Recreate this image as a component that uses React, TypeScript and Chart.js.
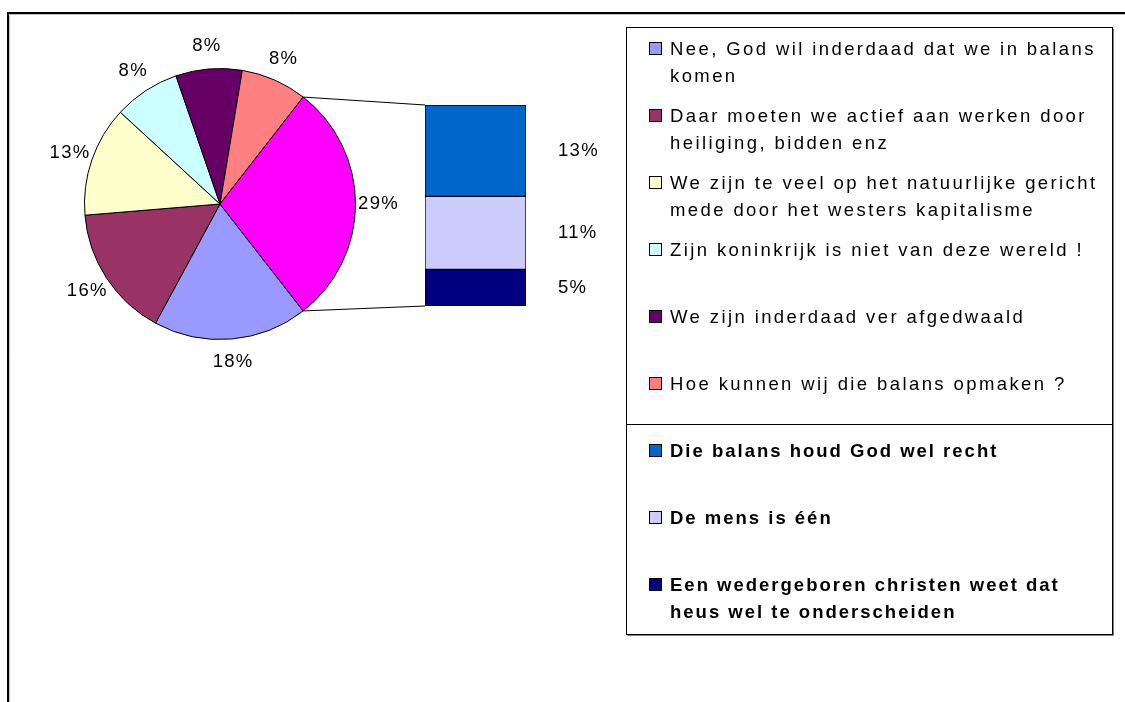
import React, { useEffect, useRef } from "react";
import { Chart, registerables } from "chart.js";

Chart.register(...registerables);

// ---- data ----
const pieLabels = [
  "Nee, God wil inderdaad dat we in balans komen",
  "Daar moeten we actief aan werken door heiliging, bidden enz",
  "We zijn te veel op het natuurlijke gericht mede door het westers kapitalisme",
  "Zijn koninkrijk is niet van deze wereld !",
  "We zijn inderdaad ver afgedwaald",
  "Hoe kunnen wij die balans opmaken ?",
];
const pieValues = [7, 6, 5, 3, 3, 3];
const pieColors = ["#9999FF", "#993366", "#FFFFCC", "#CCFFFF", "#660066", "#FF8080"];
const otherLabel = "Overig";
const otherColor = "#FF00FF";

const barLabels = [
  "Die balans houd God wel recht",
  "De mens is één",
  "Een wedergeboren christen weet dat heus wel te onderscheiden",
];
const barValues = [5, 4, 2];
const barColors = ["#0066CC", "#CCCCFF", "#000080"];

// ---- helpers ----
const W = 1125;
const H = 702;
const FONT_FAMILY = "'Liberation Sans', Arial, Helvetica, sans-serif";
const FONT_SIZE = 18.5;
const hasLS = (ctx: any) => "letterSpacing" in ctx;

function setSpacing(ctx: any, sp: number) {
  if (hasLS(ctx)) ctx.letterSpacing = sp + "px";
}
function textWidth(ctx: any, text: string, sp: number) {
  if (hasLS(ctx)) return ctx.measureText(text).width;
  return ctx.measureText(text).width + sp * text.length;
}
function drawText(ctx: any, text: string, x: number, y: number, sp: number) {
  if (hasLS(ctx)) {
    ctx.fillText(text, x, y);
    return;
  }
  let cx = x;
  for (const ch of text) {
    ctx.fillText(ch, cx, y);
    cx += ctx.measureText(ch).width + sp;
  }
}
function wrap(ctx: any, text: string, maxW: number, sp: number) {
  const words = text.split(" ");
  const lines: string[] = [];
  let cur = "";
  for (const w of words) {
    const test = cur ? cur + " " + w : w;
    if (cur && textWidth(ctx, test, sp) > maxW) {
      lines.push(cur);
      cur = w;
    } else cur = test;
  }
  if (cur) lines.push(cur);
  return lines;
}

export default function App() {
  const pieRef = useRef<HTMLCanvasElement>(null);
  const barRef = useRef<HTMLCanvasElement>(null);

  useEffect(() => {
    const otherValue = barValues.reduce((a, b) => a + b, 0);
    const total = pieValues.reduce((a, b) => a + b, 0) + otherValue;
    const pct = (v: number) => Math.round((v / total) * 100) + "%";
    const LABEL_SP = 1.3;

    const framePlugin = {
      id: "frame",
      beforeDraw(chart: any) {
        const ctx = chart.ctx;
        ctx.save();
        ctx.fillStyle = "#fff";
        ctx.fillRect(0, 0, W, H);
        ctx.strokeStyle = "#000";
        ctx.lineWidth = 2;
        ctx.beginPath();
        ctx.moveTo(8, H);
        ctx.lineTo(8, 13);
        ctx.lineTo(W, 13);
        ctx.stroke();
        ctx.strokeStyle = "#c0c0c0";
        ctx.lineWidth = 1;
        ctx.beginPath();
        ctx.moveTo(9.5, H);
        ctx.lineTo(9.5, 14.5);
        ctx.lineTo(W, 14.5);
        ctx.stroke();
        ctx.restore();
      },
    };

    const pieLabelPlugin = {
      id: "pieLabels",
      afterDraw(chart: any) {
        const ctx = chart.ctx;
        const meta = chart.getDatasetMeta(0);
        const data = chart.data.datasets[0].data as number[];
        ctx.save();
        ctx.font = FONT_SIZE + "px " + FONT_FAMILY;
        setSpacing(ctx, LABEL_SP);
        ctx.fillStyle = "#000";
        ctx.textBaseline = "middle";
        ctx.textAlign = "left";
        meta.data.forEach((arc: any, i: number) => {
          const mid = (arc.startAngle + arc.endAngle) / 2;
          const d = arc.outerRadius * 1.17;
          const x = arc.x + Math.cos(mid) * d;
          const y = arc.y + Math.sin(mid) * d;
          const t = pct(data[i]);
          const w = textWidth(ctx, t, LABEL_SP);
          drawText(ctx, t, x - w / 2, y, LABEL_SP);
        });
        ctx.restore();
      },
    };

    const legendPlugin = {
      id: "customLegend",
      afterDraw(chart: any) {
        const ctx = chart.ctx;
        const L = 626.5, T = 27.5, R = 1112.5, B = 634.5;
        const divY = 424.5;
        ctx.save();
        ctx.fillStyle = "#fff";
        ctx.fillRect(L, T, R - L, B - T);
        ctx.strokeStyle = "#000";
        ctx.lineWidth = 1;
        ctx.strokeRect(L, T, R - L, B - T);
        ctx.strokeStyle = "#808080";
        ctx.beginPath();
        ctx.moveTo(R + 1, T + 1);
        ctx.lineTo(R + 1, B + 1);
        ctx.lineTo(L + 1, B + 1);
        ctx.stroke();
        ctx.strokeStyle = "#000";
        ctx.beginPath();
        ctx.moveTo(L, divY);
        ctx.lineTo(R, divY);
        ctx.stroke();

        const textX = 670;
        const maxW = R - textX - 6;
        const slot = 67;
        const lineH = 27;
        const drawItem = (label: string, color: string, baseline: number, bold: boolean) => {
          const sp = bold ? 2.0 : 2.4;
          ctx.font = (bold ? "bold " : "") + FONT_SIZE + "px " + FONT_FAMILY;
          ctx.fillStyle = color;
          ctx.fillRect(650, baseline - 12, 12, 12);
          ctx.strokeStyle = "#000";
          ctx.lineWidth = 1;
          ctx.strokeRect(649.5, baseline - 12.5, 12, 12);
          setSpacing(ctx, sp);
          ctx.fillStyle = "#000";
          ctx.textBaseline = "alphabetic";
          ctx.textAlign = "left";
          const lines = wrap(ctx, label, maxW, sp);
          lines.forEach((ln, k) => drawText(ctx, ln, textX, baseline + k * lineH, sp));
        };
        pieLabels.forEach((lab, i) => drawItem(lab, pieColors[i], 55 + i * slot, false));
        barLabels.forEach((lab, j) => drawItem(lab, barColors[j], 457 + j * slot, true));
        ctx.restore();
      },
    };

    const pieChart = new Chart(pieRef.current as HTMLCanvasElement, {
      type: "pie",
      data: {
        labels: [...pieLabels, otherLabel],
        datasets: [
          {
            data: [...pieValues, otherValue],
            backgroundColor: [...pieColors, otherColor],
            borderColor: "#000",
            borderWidth: 1,
          },
        ],
      },
      options: {
        responsive: false,
        animation: false,
        events: [],
        rotation: 90 + (otherValue / total) * 180,
        layout: { padding: { left: 84, right: W - 356, top: 68, bottom: H - 340 } },
        plugins: { legend: { display: false }, tooltip: { enabled: false } },
      } as any,
      plugins: [framePlugin, pieLabelPlugin, legendPlugin],
    });

    const connectorPlugin = {
      id: "connector",
      afterDraw(chart: any) {
        const ctx = chart.ctx;
        const pieMeta = pieChart.getDatasetMeta(0);
        const arc: any = pieMeta.data[pieMeta.data.length - 1];
        const yScale = chart.scales.y;
        const el: any = chart.getDatasetMeta(0).data[0];
        const barLeft = el.x - el.width / 2;
        const barRight = el.x + el.width / 2;
        const topY = yScale.getPixelForValue(0);
        const botY = yScale.getPixelForValue(otherValue);
        const p1x = arc.x + Math.cos(arc.startAngle) * arc.outerRadius;
        const p1y = arc.y + Math.sin(arc.startAngle) * arc.outerRadius;
        const p2x = arc.x + Math.cos(arc.endAngle) * arc.outerRadius;
        const p2y = arc.y + Math.sin(arc.endAngle) * arc.outerRadius;
        ctx.save();
        ctx.strokeStyle = "#000";
        ctx.lineWidth = 1;
        ctx.beginPath();
        ctx.moveTo(p1x, p1y);
        ctx.lineTo(barLeft, topY);
        ctx.moveTo(p2x, p2y);
        ctx.lineTo(barLeft, botY);
        ctx.stroke();

        ctx.font = FONT_SIZE + "px " + FONT_FAMILY;
        setSpacing(ctx, LABEL_SP);
        ctx.fillStyle = "#000";
        ctx.textBaseline = "middle";
        ctx.textAlign = "left";
        chart.data.datasets.forEach((ds: any, i: number) => {
          const e: any = chart.getDatasetMeta(i).data[0];
          const cy = (e.y + e.base) / 2;
          drawText(ctx, pct(ds.data[0]), barRight + 32, cy, LABEL_SP);
        });
        ctx.restore();
      },
    };

    const barChart = new Chart(barRef.current as HTMLCanvasElement, {
      type: "bar",
      data: {
        labels: [otherLabel],
        datasets: barValues.map((v, i) => ({
          label: barLabels[i],
          data: [v],
          backgroundColor: barColors[i],
          borderColor: "#000",
          borderWidth: 1,
          borderSkipped: false,
          barPercentage: 1,
          categoryPercentage: 1,
        })),
      },
      options: {
        responsive: false,
        animation: false,
        events: [],
        layout: { padding: { left: 425, right: W - 526, top: 105, bottom: H - 306 } },
        scales: {
          x: { stacked: true, display: false },
          y: { stacked: true, display: false, reverse: true, min: 0, max: otherValue },
        },
        plugins: { legend: { display: false }, tooltip: { enabled: false } },
      } as any,
      plugins: [connectorPlugin],
    });

    return () => {
      barChart.destroy();
      pieChart.destroy();
    };
  }, []);

  return (
    <div style={{ position: "fixed", left: 0, top: 0, width: W, height: H, background: "#fff" }}>
      <canvas ref={pieRef} width={W} height={H} style={{ position: "absolute", left: 0, top: 0 }} />
      <canvas
        ref={barRef}
        width={W}
        height={H}
        style={{ position: "absolute", left: 0, top: 0, pointerEvents: "none" }}
      />
    </div>
  );
}
